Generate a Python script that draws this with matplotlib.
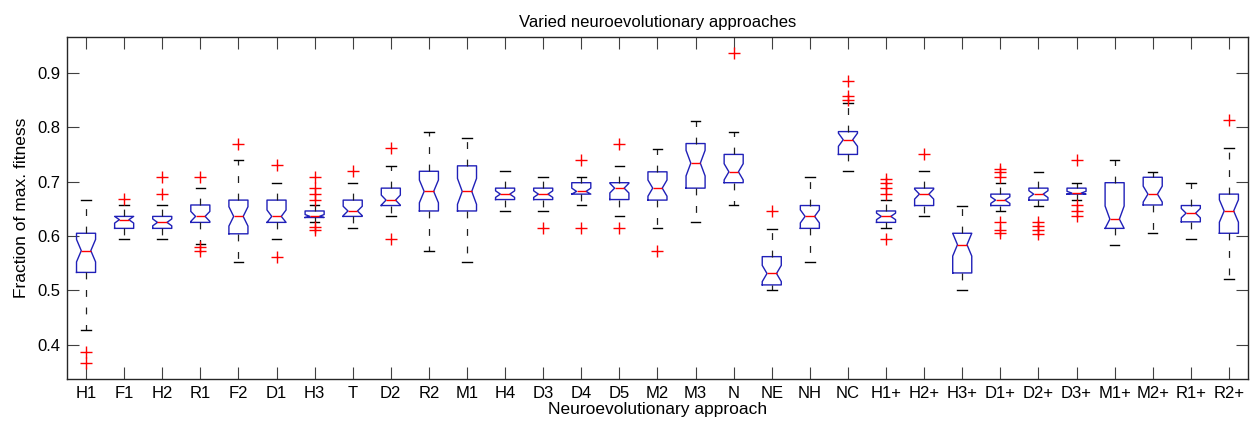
import numpy as np
import matplotlib
matplotlib.use("Agg")
import matplotlib.pyplot as plt

plt.rcParams['font.family'] = ['Liberation Sans', 'DejaVu Sans']

labels = ['H1', 'F1', 'H2', 'R1', 'F2', 'D1', 'H3', 'T', 'D2', 'R2', 'M1', 'H4',
          'D3', 'D4', 'D5', 'M2', 'M3', 'N', 'NE', 'NH', 'NC', 'H1+', 'H2+',
          'H3+', 'D1+', 'D2+', 'D3+', 'M1+', 'M2+', 'R1+', 'R2+']

whislo = [0.428, 0.594, 0.594, 0.586, 0.553, 0.594, 0.625, 0.614, 0.636, 0.573,
          0.553, 0.646, 0.646, 0.657, 0.636, 0.614, 0.625, 0.657, 0.501, 0.553,
          0.719, 0.614, 0.636, 0.500, 0.646, 0.656, 0.666, 0.584, 0.605, 0.594,
          0.521]
q1 = [0.533, 0.614, 0.614, 0.625, 0.604, 0.625, 0.634, 0.636, 0.656, 0.646,
      0.646, 0.667, 0.667, 0.677, 0.667, 0.666, 0.688, 0.698, 0.510, 0.614,
      0.750, 0.625, 0.656, 0.532, 0.656, 0.666, 0.677, 0.614, 0.657, 0.626,
      0.605]
med = [0.573, 0.630, 0.625, 0.636, 0.636, 0.636, 0.636, 0.646, 0.666, 0.682,
       0.682, 0.677, 0.677, 0.682, 0.688, 0.688, 0.734, 0.718, 0.531, 0.636,
       0.777, 0.636, 0.677, 0.584, 0.666, 0.677, 0.679, 0.631, 0.677, 0.642,
       0.646]
q3 = [0.605, 0.636, 0.636, 0.657, 0.666, 0.666, 0.646, 0.666, 0.688, 0.719,
      0.729, 0.688, 0.688, 0.698, 0.698, 0.718, 0.770, 0.750, 0.562, 0.656,
      0.792, 0.646, 0.688, 0.605, 0.677, 0.688, 0.688, 0.698, 0.708, 0.656,
      0.677]
whishi = [0.666, 0.657, 0.657, 0.688, 0.740, 0.698, 0.657, 0.698, 0.729, 0.792,
          0.781, 0.719, 0.709, 0.709, 0.729, 0.760, 0.812, 0.791, 0.613, 0.709,
          0.844, 0.666, 0.719, 0.656, 0.698, 0.718, 0.698, 0.740, 0.718, 0.698,
          0.761]
fliers = [
    [0.386, 0.366], [0.668], [0.709, 0.677], [0.709, 0.579, 0.573], [0.770],
    [0.730, 0.562], [0.709, 0.688, 0.677, 0.666, 0.616, 0.611], [0.719],
    [0.761, 0.594], [], [], [], [0.614], [0.740, 0.614], [0.770, 0.614],
    [0.573], [], [0.937], [0.646], [], [0.885, 0.858, 0.851],
    [0.704, 0.698, 0.688, 0.677, 0.594], [0.750], [],
    [0.724, 0.718, 0.709, 0.626, 0.611, 0.605], [0.626, 0.618, 0.611, 0.604],
    [0.740, 0.657, 0.646, 0.636], [], [], [], [0.813],
]
n_runs = 30  # assumed sample size per approach, sets the notch width

stats = []
for i in range(len(labels)):
    half = 1.57 * (q3[i] - q1[i]) / np.sqrt(n_runs)
    stats.append(dict(label=labels[i], whislo=whislo[i], q1=q1[i], med=med[i],
                      q3=q3[i], whishi=whishi[i], fliers=fliers[i],
                      cilo=max(med[i] - half, q1[i]),
                      cihi=min(med[i] + half, q3[i])))

fig = plt.figure(figsize=(12.57, 4.29), dpi=100)
ax = fig.add_axes([0.0533, 0.1166, 0.9395, 0.7972])

ax.bxp(stats, positions=np.arange(1, len(labels) + 1), widths=0.5,
       shownotches=True,
       boxprops=dict(color='#2020b8', linewidth=1.0),
       medianprops=dict(color='#ff0000', linewidth=1.0),
       whiskerprops=dict(color='#202020', linewidth=0.9,
                         linestyle=(0, (5.5, 8.5))),
       capprops=dict(color='black', linewidth=1.0),
       flierprops=dict(marker='+', markeredgecolor='#ff0000', markersize=9,
                       markeredgewidth=1.0, linestyle='none'))

ax.set_xlim(0.5, len(labels) + 0.5)
ax.set_ylim(0.337, 0.966)
ax.set_yticks([0.4, 0.5, 0.6, 0.7, 0.8, 0.9])
ax.set_yticklabels(['0.4', '0.5', '0.6', '0.7', '0.8', '0.9'])
ax.tick_params(direction='in', top=True, right=True, length=8.5, width=0.8,
               color='#404040', labelsize=12, pad=5)
for s in ax.spines.values():
    s.set_color('#262626')
    s.set_linewidth(1.0)

ax.set_title('Varied neuroevolutionary approaches', fontsize=12, pad=7)
ax.set_xlabel('Neuroevolutionary approach', fontsize=12.5, labelpad=1)
ax.set_ylabel('Fraction of max. fitness', fontsize=12.5, labelpad=6)

fig.savefig('out.png', dpi=100)
